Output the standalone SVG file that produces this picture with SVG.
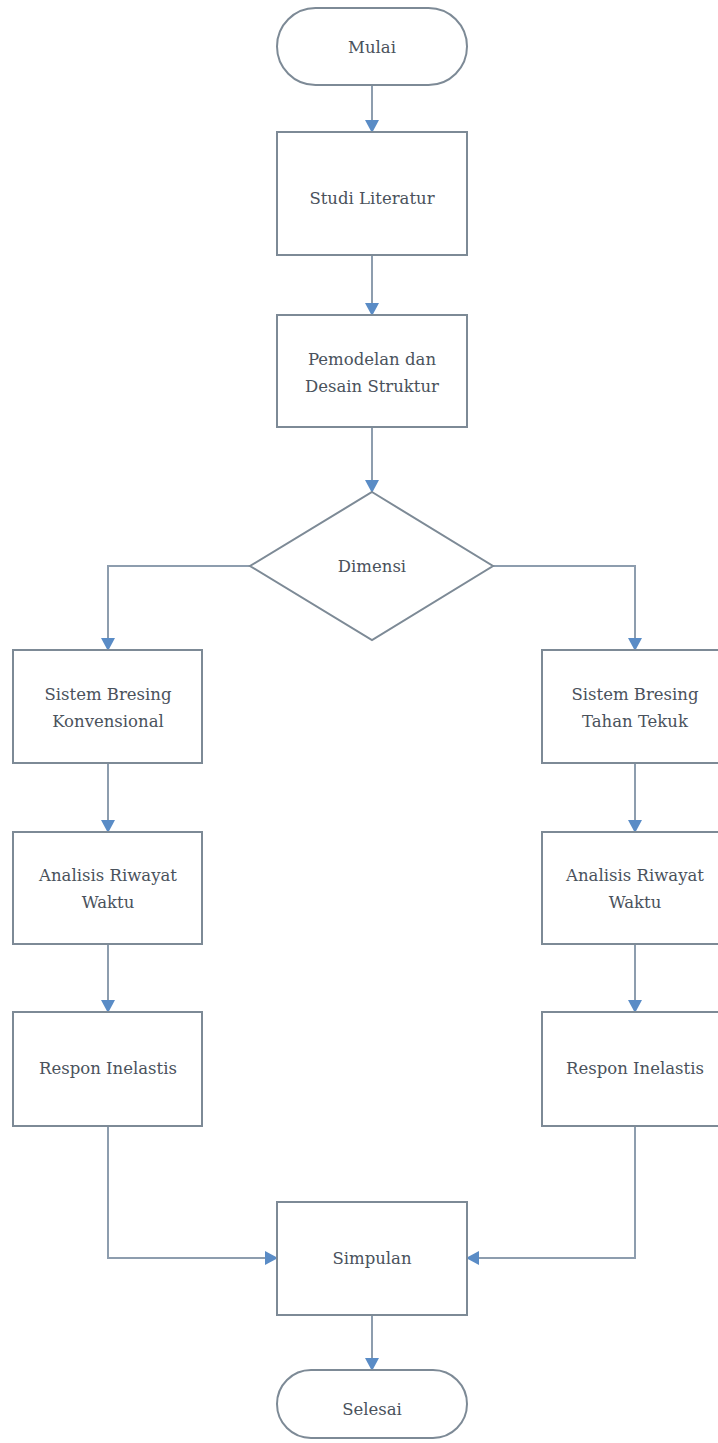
<svg xmlns="http://www.w3.org/2000/svg" width="718" height="1443" viewBox="0 0 718 1443">
<defs>
<marker id="arr" markerWidth="16" markerHeight="14" refX="12" refY="7" orient="auto" markerUnits="userSpaceOnUse">
<path d="M0,0 L13,7 L0,14 Z" fill="#5a8cc6"/>
</marker>
<style>
.n{fill:#ffffff;stroke:#7d8a96;stroke-width:2}
.c{fill:none;stroke:#8d9dae;stroke-width:2;marker-end:url(#arr)}
.t{font-family:"DejaVu Serif","Liberation Serif",serif;font-size:16.5px;fill:#4a525c;text-anchor:middle;dominant-baseline:central}
</style>
</defs>
<rect width="718" height="1443" fill="#ffffff"/>
<g id="connectors">
<path class="c" d="M372,85 L372,132"/>
<path class="c" d="M372,255 L372,315"/>
<path class="c" d="M372,427 L372,492"/>
<path class="c" d="M250,566 L108,566 L108,650"/>
<path class="c" d="M493,566 L635,566 L635,650"/>
<path class="c" d="M108,763 L108,832"/>
<path class="c" d="M635,763 L635,832"/>
<path class="c" d="M108,944 L108,1012"/>
<path class="c" d="M635,944 L635,1012"/>
<path class="c" d="M108,1126 L108,1258 L277,1258"/>
<path class="c" d="M635,1126 L635,1258 L467,1258"/>
<path class="c" d="M372,1315 L372,1370"/>
</g>
<g id="mulai"><rect class="n" x="277" y="8" width="190" height="77" rx="38.5"/><text class="t" x="372" y="47">Mulai</text></g>
<g id="studi"><rect class="n" x="277" y="132" width="190" height="123"/><text class="t" x="372" y="198">Studi Literatur</text></g>
<g id="pemodelan"><rect class="n" x="277" y="315" width="190" height="112"/><text class="t" x="372" y="359">Pemodelan dan</text><text class="t" x="372" y="386">Desain Struktur</text></g>
<g id="dimensi"><polygon class="n" points="372,492 493,566 372,640 250,566"/><text class="t" x="372" y="566">Dimensi</text></g>
<g id="sbk"><rect class="n" x="13" y="650" width="189" height="113"/><text class="t" x="108" y="694">Sistem Bresing</text><text class="t" x="108" y="721">Konvensional</text></g>
<g id="sbt"><rect class="n" x="542" y="650" width="189" height="113"/><text class="t" x="635" y="694">Sistem Bresing</text><text class="t" x="635" y="721">Tahan Tekuk</text></g>
<g id="arw1"><rect class="n" x="13" y="832" width="189" height="112"/><text class="t" x="108" y="875">Analisis Riwayat</text><text class="t" x="108" y="902">Waktu</text></g>
<g id="arw2"><rect class="n" x="542" y="832" width="189" height="112"/><text class="t" x="635" y="875">Analisis Riwayat</text><text class="t" x="635" y="902">Waktu</text></g>
<g id="ri1"><rect class="n" x="13" y="1012" width="189" height="114"/><text class="t" x="108" y="1068">Respon Inelastis</text></g>
<g id="ri2"><rect class="n" x="542" y="1012" width="189" height="114"/><text class="t" x="635" y="1068">Respon Inelastis</text></g>
<g id="simpulan"><rect class="n" x="277" y="1202" width="190" height="113"/><text class="t" x="372" y="1258">Simpulan</text></g>
<g id="selesai"><rect class="n" x="277" y="1370" width="190" height="68" rx="34"/><text class="t" x="372" y="1409">Selesai</text></g>
</svg>
